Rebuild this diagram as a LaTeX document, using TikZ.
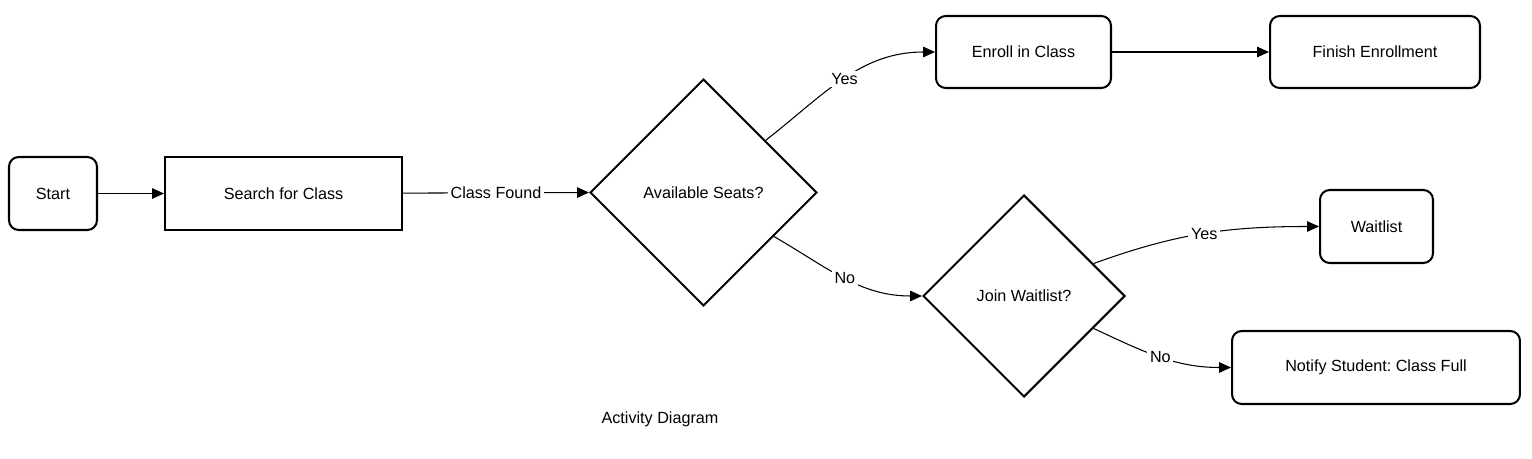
\documentclass[tikz,border=0pt]{standalone}
\usepackage{fontspec}
\setmainfont{Liberation Sans}
\usetikzlibrary{arrows.meta, shapes.geometric}
\frenchspacing

\begin{document}
\begin{tikzpicture}[>={Triangle[length=6.8pt, width=6pt]}, x=0.02cm, y=-0.02cm,
  every node/.style={font=\fontsize{9.2}{11}\selectfont},
  action/.style={draw, line width=1.15pt, rounded corners=5.5pt, minimum height=1.46cm},
  task/.style={draw, line width=1.15pt, minimum height=1.46cm},
  decision/.style={draw, diamond, aspect=1, line width=1.15pt},
  flow/.style={->, line width=0.6pt},
  guard/.style={fill=white, inner sep=1.5pt}]
  \useasboundingbox (0,0) rectangle (1532,459);
  % activities
  \node[action, minimum width=1.76cm] (start) at (53,193.5) {Start};
  \node[task, minimum width=4.74cm] (search) at (283.5,193.5) {Search for Class};
  \node[decision, minimum width=4.54cm, minimum height=4.54cm] (seats) at (703.5,192.5) {Available Seats?};
  \node[action, minimum width=3.5cm, minimum height=1.44cm] (enroll) at (1023.5,52) {Enroll in Class};
  \node[action, minimum width=4.2cm, minimum height=1.44cm] (finish) at (1375,52) {Finish Enrollment};
  \node[decision, minimum width=4.04cm, minimum height=4.04cm] (join) at (1024,296) {Join Waitlist?};
  \node[action, minimum width=2.26cm] (waitlist) at (1376.5,226.5) {Waitlist};
  \node[action, minimum width=5.76cm] (notify) at (1376,367.5) {Notify Student: Class Full};
  % caption
  \node (caption) at (660,419) {Activity Diagram};
  % transitions
  \draw[flow] (start) -- (search);
  \draw[flow] (search) -- (seats.west) node[guard, midway] {Class Found};
  \draw[flow] (seats.40) to[out=38, in=180] node[guard, pos=0.5] {Yes} (enroll.west);
  \draw[flow] (seats.-32) to[out=-30, in=180] node[guard, pos=0.5] {No} (join.west);
  \draw[flow] (enroll) -- (finish);
  \draw[flow] (join.25) to[out=20, in=180] node[guard, pos=0.5] {Yes} (waitlist.west);
  \draw[flow] (join.-25) to[out=-25, in=180] node[guard, pos=0.5] {No} (notify.west);
\end{tikzpicture}
\end{document}
